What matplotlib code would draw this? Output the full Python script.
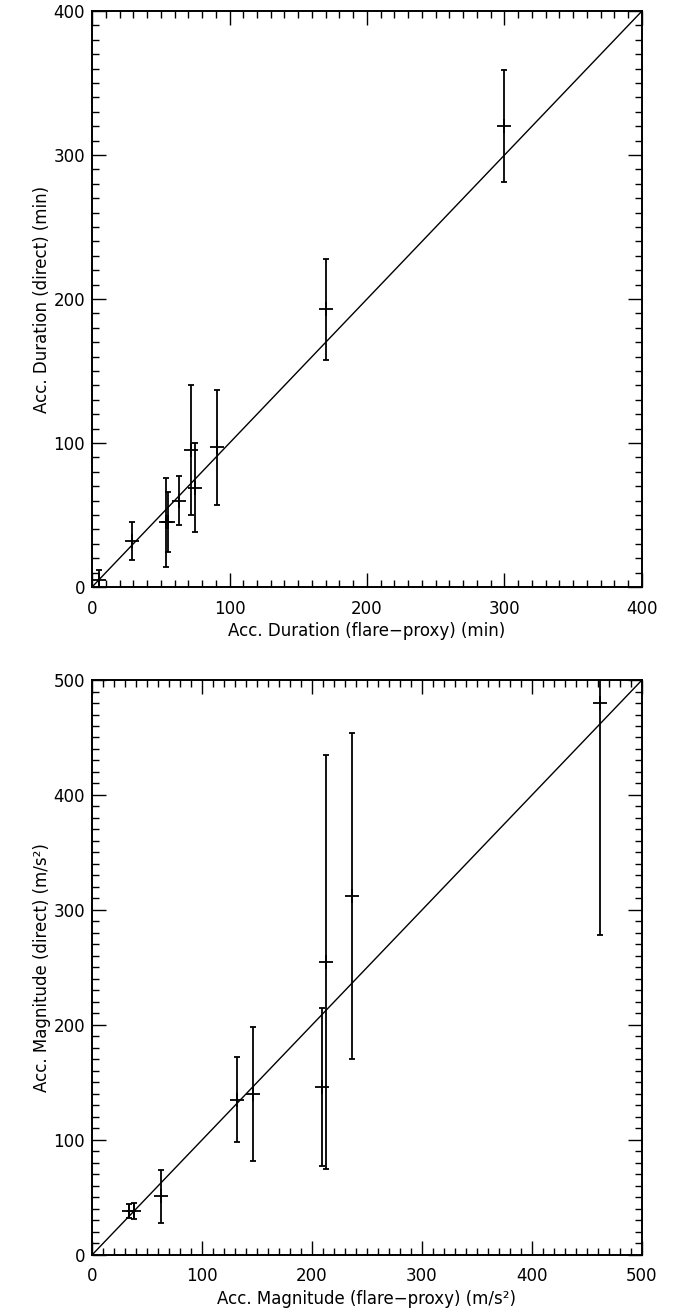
import matplotlib
matplotlib.use('Agg')
import matplotlib.pyplot as plt
from matplotlib.ticker import MultipleLocator

# acceleration duration (min): flare-proxy vs direct
dur_proxy = [5, 29, 54, 55, 63, 72, 75, 91, 170, 300]
dur_direct = [5, 32, 45, 45, 60, 95, 69, 97, 193, 320]
dur_err = [7, 13, 31, 21, 17, 45, 31, 40, 35, 39]

# acceleration magnitude (m/s^2): flare-proxy vs direct
mag_proxy = [34, 38.5, 63, 131.5, 146, 209, 213, 236, 462]
mag_direct = [38, 38, 51, 135, 140, 146, 255, 312, 480]
mag_err = [6, 7, 23, 37, 58, 69, 180, 142, 202]

plt.rcParams['font.family'] = ['DejaVu Sans']
plt.rcParams['font.size'] = 12


def style_axes(ax, lim, major, minor):
    """IDL-like box: ticks inside on all four sides."""
    ax.set_xlim(0, lim)
    ax.set_ylim(0, lim)
    ax.xaxis.set_major_locator(MultipleLocator(major))
    ax.xaxis.set_minor_locator(MultipleLocator(minor))
    ax.yaxis.set_major_locator(MultipleLocator(major))
    ax.yaxis.set_minor_locator(MultipleLocator(minor))
    ax.tick_params(which='both', direction='in', top=True, right=True, width=1.0, colors='black')
    ax.tick_params(which='major', length=10, labelsize=12)
    ax.tick_params(axis='x', which='major', pad=9)
    ax.tick_params(axis='y', which='major', pad=5)
    ax.tick_params(which='minor', length=5)
    for s in ax.spines.values():
        s.set_linewidth(1.4)


def panel(ax, x, y, err, lim, major, minor, xlabel, ylabel):
    """Scatter with vertical error bars and the one-to-one line."""
    ax.plot([0, lim], [0, lim], color='black', lw=1.0)
    ax.errorbar(x, y, yerr=err, fmt='+', color='black', ms=9.5, mew=1.3,
                elinewidth=1.3, capsize=2.2, capthick=1.3)
    style_axes(ax, lim, major, minor)
    ax.set_xlabel(xlabel, fontsize=12, labelpad=3)
    ax.set_ylabel(ylabel, fontsize=12, labelpad=2)


fig = plt.figure(figsize=(6.75, 13.13), dpi=100)

ax1 = fig.add_axes([0.1363, 0.5529, 0.8148, 0.4387])
panel(ax1, dur_proxy, dur_direct, dur_err, 400, 100, 10,
      'Acc. Duration (flare\u2212proxy) (min)', 'Acc. Duration (direct) (min)')

ax2 = fig.add_axes([0.1363, 0.0442, 0.8148, 0.4379])
panel(ax2, mag_proxy, mag_direct, mag_err, 500, 100, 10,
      'Acc. Magnitude (flare\u2212proxy) (m/s\u00b2)', 'Acc. Magnitude (direct) (m/s\u00b2)')

fig.savefig('out.png', dpi=100)
plt.close(fig)
